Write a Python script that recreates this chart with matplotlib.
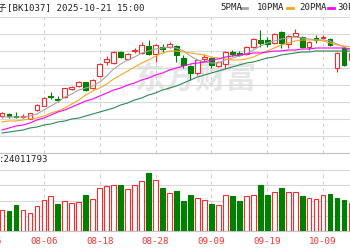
import matplotlib
matplotlib.use('Agg')
import matplotlib.pyplot as plt
from matplotlib.lines import Line2D
import numpy as np

plt.rcParams['font.family'] = ['DejaVu Sans Mono', 'Noto Sans CJK SC']

# daily K-line of BK1037 (index points, relative)
opens = [34, 36, 34, 33, 31, 40, 44, 54.5, 51.5, 53,
         61, 64, 68, 62, 74, 88, 87, 98, 91, 99,
         97, 104, 96, 103, 103, 104, 92, 84, 77, 91,
         92, 84, 86, 98, 97, 96, 103, 110, 110, 107,
         118, 106, 114, 113, 103, 112, 112, 111, 82, 102,
         90]
closes = [37, 34, 33, 33.5, 37, 45, 52, 53.5, 50.5, 62,
          63, 68, 60, 70, 86, 91, 98, 93, 96, 100,
          105, 96, 105, 101, 106, 95, 85, 77, 90, 93,
          85, 88, 98, 96, 95.5, 103, 111, 107, 106, 116,
          107, 114, 117, 103, 108, 110, 112.3, 105, 97, 85,
          97]
highs = [38, 37, 38, 36, 37.5, 46, 53, 58, 54, 62.5,
         64, 69, 68.5, 71, 87, 94, 99, 99, 97, 102,
         108, 110, 106, 106, 108, 105, 95, 85, 91, 96,
         93, 89, 99, 100, 99, 104, 112, 120, 113, 117,
         119, 115, 121, 114, 109, 115, 115, 112, 98, 104,
         98]
lows = [32, 32, 32, 32, 31, 39.5, 44, 51, 48, 52,
        60, 63, 59, 61, 73, 85, 86, 92, 90, 97,
        96, 95, 88, 97, 102, 88, 82, 70, 75, 88,
        82, 83, 81, 94, 94, 95, 102, 103, 103, 106,
        102, 102, 113, 102, 100, 107, 111, 104, 78, 84,
        88]

ma5 = [33, 33, 33, 33, 34, 36, 40, 44, 48, 53,
       56, 60, 62, 64, 68, 74, 81, 86, 90, 93,
       97, 99, 101, 102, 103, 102, 99, 94, 90, 88,
       87, 87, 90, 92, 94, 96, 100, 104, 107, 109,
       111, 112, 113, 112, 111, 110, 110, 109, 106, 103,
       99]
ma10 = [28, 29, 29, 30, 31, 32, 34, 37, 39, 42,
        46, 50, 55, 59, 62, 66, 71, 75, 79, 83,
        87, 90, 94, 97, 99, 99, 98, 97, 96, 95,
        93, 92, 91, 90, 90, 91, 93, 96, 99, 102,
        105, 107, 109, 110, 110, 110, 109, 107, 105, 104,
        103]
ma20 = [20, 22, 24, 25, 27, 30, 32, 35, 38, 40,
        43, 46, 49, 51, 54, 57, 60, 62, 65, 67,
        70, 72, 75, 77, 80, 82, 84, 86, 87, 88,
        90, 91, 93, 94, 95, 96, 97, 97, 98, 99,
        99, 100, 100, 101, 101, 102, 102, 102, 102, 102,
        101]
ma30 = [17, 18, 19, 20, 22, 23, 25, 26, 28, 29,
        31, 32, 34, 36, 38, 40, 42, 45, 47, 50,
        52, 55, 57, 60, 62, 64, 67, 70, 73, 75,
        77, 79, 81, 83, 85, 87, 88, 90, 92, 93,
        95, 96, 97, 98, 98, 99, 99, 99, 99, 99,
        99]

# volume, millions
vols = [10.5, 10.0, 13.0, 10.5, 9.0, 12.5, 15.5, 17.5, 13.5, 15.0,
        14.0, 14.5, 18.0, 16.0, 21.5, 22.5, 23.0, 23.0, 21.0, 23.0,
        25.0, 29.0, 25.5, 21.5, 19.0, 20.0, 15.0, 18.0, 16.5, 15.5,
        13.5, 13.0, 18.0, 17.5, 15.0, 17.5, 18.0, 23.0, 18.0, 19.5,
        21.5, 19.5, 19.5, 17.5, 16.5, 16.0, 18.0, 18.5, 16.5, 15.5,
        14.0]
vol_dir = 'R G G R R R R R G R R R G R R R R G R R R G R G R G G G R R G R R G G R R G G R G R R G R R R G G G R'.split()

dates = ['07-25', '08-06', '08-18', '08-28', '09-09', '09-19', '10-09']
date_pos = [-2, 6, 14, 22, 30, 38, 46]

RED = '#ff2828'
GREEN = '#008000'
GRID = '#d9d9d9'

W, H = 350, 250
fig = plt.figure(figsize=(W / 100, H / 100), dpi=100)


def box(top, bottom):
    return [-21 / W, 1 - bottom / H, 378 / W, (bottom - top) / H]


ax = fig.add_axes(box(17, 153))
axv = fig.add_axes(box(170, 231), sharex=ax)

x = np.arange(len(opens))
o = np.array(opens)
c = np.array(closes)
up = c >= o
col = np.where(up, RED, GREEN)
face = np.where(up, 'white', GREEN)
body_lo = np.minimum(o, c)
body_h = np.maximum(np.abs(c - o), 0.6)

# watermark
ax.text(195 / W, 1 - 79 / H, '东方财富', transform=fig.transFigure, fontsize=22,
        family='Noto Sans CJK SC', weight='bold', color='#e6e6e6',
        ha='center', va='center', zorder=0.5)

ax.vlines(x, lows, highs, colors=col, lw=0.8, zorder=2)
ax.bar(x, body_h, bottom=body_lo, width=0.68, color=face, edgecolor=col,
       lw=0.8, zorder=3)

ax.plot(x, ma5, color='#a6a6a6', lw=0.8, zorder=4)
ax.plot(x, ma10, color='#f5a623', lw=0.8, zorder=4)
ax.plot(x, ma20, color='#ff00ff', lw=0.8, zorder=4)
ax.plot(x, ma30, color='#2e8b57', lw=0.8, zorder=4)

vcol = [RED if d == 'R' else GREEN for d in vol_dir]
vface = ['white' if d == 'R' else GREEN for d in vol_dir]
axv.bar(x, vols, width=0.68, color=vface, edgecolor=vcol, lw=0.8, zorder=3)

ax.set_xlim(-3.295, 50.86)
ax.set_ylim(-3, 133)
ax.set_yticks(np.arange(-3, 134, 17))
axv.set_ylim(0, 30.5)
axv.set_yticks(np.linspace(0, 30.5, 5))
axv.set_xticks(date_pos)
axv.set_xticklabels(dates)

for a in (ax, axv):
    a.set_axisbelow(True)
    a.grid(axis='y', color=GRID, lw=0.8)
    a.grid(axis='x', color='#cfcfcf', lw=0.8, ls=(0, (3, 3)))
    a.tick_params(length=0, labelleft=False)
    for s in ('left', 'right'):
        a.spines[s].set_visible(False)
    a.spines['top'].set_color(GRID)
    a.spines['bottom'].set_color('#c4c4c4')
ax.tick_params(labelbottom=False)
axv.tick_params(axis='x', pad=4, labelsize=6.6, labelcolor='#ff3030')

# header
fig.text(7 / W, 1 - 8 / H, '消费电子', ha='right', va='center', fontsize=6.6,
         color='#222222')
fig.text(7 / W, 1 - 8 / H, '[BK1037] 2025-10-21 15:00', ha='left', va='center',
         fontsize=6.6, color='#222222')

legend = [('5PMA', 220, 241, '#a6a6a6'), ('10PMA', 257, 287, '#f5a623'),
          ('20PMA', 299, 328, '#ff00ff'), ('30PMA', 337, 368, '#2e8b57')]
for name, tx, lx, lc in legend:
    fig.text(tx / W, 1 - 8 / H, name, ha='left', va='center', fontsize=6.6,
             color='#222222')
    fig.add_artist(Line2D([lx / W, (lx + 6) / W], [1 - 8 / H, 1 - 8 / H],
                          color=lc, lw=2, transform=fig.transFigure))

fig.text(-1 / W, 1 - 160 / H, ':24011793', ha='left', va='center',
         fontsize=6.6, color='#222222')

fig.savefig('out.png', dpi=100)
